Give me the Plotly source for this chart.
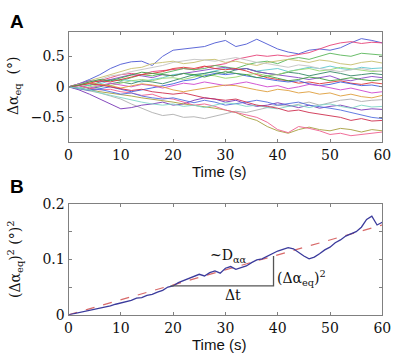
import plotly.graph_objects as go

W, H = 400, 361

# ---------------- Panel A data (values every 2 s) ----------------
tA = list(range(0, 61, 2))
traces_A = {
    "#4f5bd5": [0, 0.05, 0.12, 0.2, 0.3, 0.37, 0.41, 0.42, 0.35, 0.5, 0.6, 0.62, 0.64, 0.66, 0.72, 0.76, 0.66, 0.7, 0.78, 0.7, 0.62, 0.57, 0.54, 0.6, 0.62, 0.6, 0.64, 0.72, 0.79, 0.76, 0.72],
    "#e8457a": [0, 0.03, 0.08, 0.1, 0.15, 0.2, 0.22, 0.2, 0.25, 0.27, 0.28, 0.3, 0.28, 0.33, 0.35, 0.38, 0.45, 0.48, 0.52, 0.5, 0.52, 0.5, 0.53, 0.56, 0.62, 0.68, 0.72, 0.74, 0.71, 0.73, 0.72],
    "#5cb85c": [0, 0.04, 0.02, 0.08, 0.12, 0.1, 0.15, 0.2, 0.18, 0.22, 0.25, 0.3, 0.28, 0.3, 0.35, 0.33, 0.3, 0.36, 0.4, 0.42, 0.38, 0.45, 0.48, 0.45, 0.5, 0.55, 0.52, 0.5, 0.55, 0.53, 0.52],
    "#c8c070": [0, 0.05, 0.1, 0.15, 0.2, 0.25, 0.3, 0.32, 0.38, 0.4, 0.42, 0.38, 0.4, 0.44, 0.45, 0.4, 0.42, 0.38, 0.35, 0.4, 0.42, 0.45, 0.43, 0.4, 0.44, 0.42, 0.38, 0.36, 0.4, 0.42, 0.39],
    "#60c8d0": [0, -0.02, 0.03, 0.05, 0.1, 0.12, 0.1, 0.08, 0.12, 0.15, 0.2, 0.22, 0.18, 0.22, 0.26, 0.3, 0.28, 0.3, 0.26, 0.28, 0.3, 0.25, 0.28, 0.32, 0.3, 0.34, 0.3, 0.28, 0.32, 0.3, 0.31],
    "#3a8a6a": [0, 0.02, -0.03, 0, 0.05, 0.08, 0.05, 0.1, 0.08, 0.05, 0.1, 0.15, 0.2, 0.22, 0.25, 0.22, 0.28, 0.3, 0.25, 0.22, 0.2, 0.24, 0.22, 0.18, 0.22, 0.25, 0.22, 0.18, 0.2, 0.22, 0.2],
    "#8a4ac8": [0, 0.05, 0.1, 0.08, 0.12, 0.15, 0.2, 0.18, 0.15, 0.2, 0.18, 0.22, 0.25, 0.28, 0.3, 0.32, 0.28, 0.3, 0.25, 0.22, 0.2, 0.18, 0.15, 0.12, 0.15, 0.18, 0.12, 0.1, 0.14, 0.17, 0.15],
    "#e03a3a": [0, 0.04, 0.06, 0.1, 0.08, 0.12, 0.16, 0.2, 0.22, 0.25, 0.3, 0.32, 0.3, 0.34, 0.3, 0.28, 0.3, 0.26, 0.2, 0.15, 0.12, 0.1, 0.06, 0.08, 0.05, 0.08, 0.1, 0.06, 0.04, 0.07, 0.05],
    "#98d870": [0, -0.03, 0, 0.04, 0.02, 0.06, 0.1, 0.12, 0.1, 0.14, 0.15, 0.12, 0.16, 0.2, 0.18, 0.14, 0.16, 0.2, 0.22, 0.18, 0.2, 0.25, 0.28, 0.3, 0.26, 0.28, 0.32, 0.3, 0.27, 0.25, 0.26],
    "#4060e0": [0, -0.02, -0.05, -0.03, 0, -0.04, -0.08, -0.05, -0.02, 0.02, 0.05, 0.1, 0.12, 0.18, 0.22, 0.2, 0.22, 0.18, 0.15, 0.12, 0.1, 0.08, 0.1, 0.05, 0.02, 0.04, 0.08, 0.05, 0.02, 0.03, 0.0],
    "#d04ad0": [0, 0.02, -0.02, 0.02, 0.06, 0.03, 0, 0.04, 0.02, -0.02, 0.02, 0.06, 0.04, 0.08, 0.05, 0.02, 0.05, 0.08, 0.04, 0, 0.02, -0.03, 0, 0.04, 0.02, -0.02, -0.05, -0.02, -0.06, -0.1, -0.08],
    "#e0a040": [0, 0.03, 0.06, 0.04, 0.02, -0.02, 0.02, 0.05, 0.03, 0, -0.05, -0.08, -0.05, -0.02, 0, 0.03, 0.02, -0.02, -0.05, -0.08, -0.04, -0.06, -0.1, -0.08, -0.12, -0.1, -0.15, -0.12, -0.16, -0.18, -0.14],
    "#b0b0b0": [0, -0.03, -0.06, -0.1, -0.15, -0.2, -0.28, -0.35, -0.42, -0.47, -0.45, -0.5, -0.49, -0.52, -0.48, -0.44, -0.4, -0.42, -0.38, -0.34, -0.3, -0.32, -0.28, -0.25, -0.3, -0.26, -0.22, -0.2, -0.24, -0.22, -0.21],
    "#c4c4c4": [0, 0.04, 0.08, 0.12, 0.18, 0.2, 0.25, 0.28, 0.32, 0.35, 0.4, 0.42, 0.45, 0.44, 0.42, 0.45, 0.48, 0.44, 0.4, 0.38, 0.35, 0.32, 0.36, 0.34, 0.3, 0.28, 0.25, 0.28, 0.3, 0.27, 0.25],
    "#7a3ab8": [0, -0.05, -0.12, -0.2, -0.28, -0.36, -0.34, -0.3, -0.28, -0.25, -0.3, -0.28, -0.22, -0.18, -0.2, -0.25, -0.22, -0.28, -0.32, -0.3, -0.26, -0.3, -0.34, -0.3, -0.35, -0.32, -0.3, -0.34, -0.38, -0.36, -0.37],
    "#a8a040": [0, -0.02, -0.05, -0.08, -0.1, -0.12, -0.15, -0.18, -0.2, -0.22, -0.25, -0.28, -0.3, -0.32, -0.35, -0.38, -0.42, -0.5, -0.55, -0.65, -0.72, -0.76, -0.7, -0.66, -0.7, -0.72, -0.68, -0.7, -0.74, -0.7, -0.72],
    "#f06090": [0, 0.02, -0.02, -0.05, -0.04, -0.08, -0.1, -0.14, -0.12, -0.18, -0.2, -0.25, -0.3, -0.28, -0.32, -0.38, -0.42, -0.45, -0.5, -0.58, -0.7, -0.75, -0.65, -0.68, -0.72, -0.78, -0.76, -0.8, -0.78, -0.76, -0.74],
    "#5570e0": [0, -0.03, -0.06, -0.04, -0.08, -0.12, -0.1, -0.15, -0.18, -0.2, -0.18, -0.22, -0.26, -0.22, -0.25, -0.3, -0.28, -0.25, -0.22, -0.25, -0.3, -0.28, -0.25, -0.3, -0.32, -0.35, -0.38, -0.42, -0.45, -0.5, -0.52],
    "#80d8c8": [0, -0.02, -0.05, -0.1, -0.14, -0.18, -0.22, -0.25, -0.28, -0.3, -0.28, -0.32, -0.3, -0.34, -0.3, -0.26, -0.28, -0.32, -0.3, -0.34, -0.36, -0.32, -0.3, -0.34, -0.3, -0.28, -0.32, -0.35, -0.3, -0.33, -0.32],
    "#d03050": [0, 0.02, 0.05, 0.03, 0.0, -0.03, -0.06, -0.04, -0.08, -0.1, -0.12, -0.1, -0.14, -0.18, -0.2, -0.22, -0.2, -0.25, -0.3, -0.32, -0.35, -0.4, -0.38, -0.42, -0.45, -0.48, -0.5, -0.55, -0.52, -0.56, -0.55],
    "#40a040": [0, 0.03, 0.08, 0.12, 0.1, 0.15, 0.2, 0.24, 0.22, 0.2, 0.18, 0.22, 0.2, 0.16, 0.2, 0.25, 0.22, 0.2, 0.15, 0.18, 0.14, 0.1, 0.12, 0.16, 0.14, 0.1, 0.12, 0.15, 0.12, 0.1, 0.12],
}

# ---------------- Panel B data (values every 1 s) ----------------
tB = list(range(0, 61))
msd_B = [0, 0.002, 0.004, 0.005, 0.008, 0.010, 0.011, 0.014, 0.016, 0.019, 0.021, 0.024, 0.026, 0.030, 0.031, 0.035, 0.037, 0.041, 0.044, 0.050,
         0.052, 0.058, 0.062, 0.066, 0.069, 0.073, 0.070, 0.076, 0.079, 0.075, 0.084, 0.087, 0.082, 0.085, 0.088, 0.094, 0.099, 0.101, 0.106, 0.110,
         0.115, 0.118, 0.121, 0.119, 0.112, 0.106, 0.101, 0.104, 0.110, 0.117, 0.122, 0.130, 0.135, 0.142, 0.146, 0.150, 0.158, 0.172, 0.178, 0.162, 0.167]
fit_t = [0, 60]
fit_v = [0, 0.162]
tri_t = [19.5, 39.2, 39.2]
tri_v = [0.052, 0.052, 0.106]

xA_ticks = [0, 10, 20, 30, 40, 50, 60]
yA_ticks = [-0.5, 0, 0.5]
yA_text = ["\u22120.5", "0", "0.5"]
yB_ticks = [0, 0.05, 0.1, 0.15, 0.2]
yB_text = ["0", "", "0.1", "", "0.2"]

fig = go.Figure()
for col, vals in traces_A.items():
    fig.add_trace(go.Scatter(x=tA, y=vals, mode="lines", line=dict(color=col, width=1),
                             opacity=0.9, xaxis="x", yaxis="y", showlegend=False, hoverinfo="skip"))

fig.add_trace(go.Scatter(x=fit_t, y=fit_v, mode="lines", line=dict(color="#d86a6a", width=1.2, dash="dash"),
                         xaxis="x2", yaxis="y2", showlegend=False))
fig.add_trace(go.Scatter(x=tB, y=msd_B, mode="lines", line=dict(color="#3b3b9c", width=1.3),
                         xaxis="x2", yaxis="y2", showlegend=False))
fig.add_trace(go.Scatter(x=tri_t, y=tri_v, mode="lines", line=dict(color="#555555", width=1.3),
                         xaxis="x2", yaxis="y2", showlegend=False))

def px(x):
    return x / W

def py(y):
    return 1 - y / H

serif = "DejaVu Serif, Liberation Serif, serif"
sans = "Liberation Sans, Arial, sans-serif"

axis_common = dict(showline=True, linecolor="#808080", linewidth=1, mirror="ticks", ticks="inside",
                   ticklen=3, tickcolor="#808080", showgrid=False, zeroline=False,
                   tickfont=dict(family=serif, size=14, color="#111"))

xd = [px(66.7), px(391)]
fig.update_layout(
    width=W, height=H, margin=dict(l=0, r=0, t=0, b=0),
    paper_bgcolor="white", plot_bgcolor="white",
    font=dict(family=serif, size=14, color="#111"),
    xaxis=dict(domain=xd, range=[0, 60], tickvals=xA_ticks, anchor="y", **axis_common),
    yaxis=dict(domain=[py(140), py(25)], range=[-0.9, 0.9], tickvals=yA_ticks, ticktext=yA_text, anchor="x", **axis_common),
    xaxis2=dict(domain=xd, range=[0, 60], tickvals=xA_ticks, anchor="y2", **axis_common),
    yaxis2=dict(domain=[py(321), py(205)], range=[0, 0.2], tickvals=yB_ticks, ticktext=yB_text, anchor="x2", **axis_common),
)

ann = []
ann.append(dict(x=px(4), y=py(14), text="<b>A</b>", font=dict(family=sans, size=19, color="black"), xanchor="left", yanchor="middle"))
ann.append(dict(x=px(4), y=py(187), text="<b>B</b>", font=dict(family=sans, size=19, color="black"), xanchor="left", yanchor="middle"))
ann.append(dict(x=px(222), y=py(171), text="Time (s)", font=dict(family=sans, size=15, color="#111"), xanchor="center", yanchor="middle"))
ann.append(dict(x=px(222), y=py(352), text="Time (s)", font=dict(family=sans, size=15, color="#111"), xanchor="center", yanchor="middle"))
ann.append(dict(x=px(11), y=py(82), text="\u0394\u03b1<sub>eq</sub>  (\u00b0)", textangle=-90,
                font=dict(family=serif, size=14, color="#111"), xanchor="center", yanchor="middle"))
ann.append(dict(x=px(12), y=py(263), text="(\u0394\u03b1<sub>eq</sub>)<sup>2</sup> (\u00b0)<sup>2</sup>", textangle=-90,
                font=dict(family=serif, size=14, color="#111"), xanchor="center", yanchor="middle"))
for a in ann:
    a.update(xref="paper", yref="paper", showarrow=False)

ann.append(dict(x=30.6, y=0.106, xref="x2", yref="y2", text="~D<sub>\u03b1\u03b1</sub>", showarrow=False,
                font=dict(family=serif, size=14, color="#111"), xanchor="center", yanchor="middle"))
ann.append(dict(x=31.5, y=0.035, xref="x2", yref="y2", text="\u0394t", showarrow=False,
                font=dict(family=serif, size=14, color="#111"), xanchor="center", yanchor="middle"))
ann.append(dict(x=44.6, y=0.066, xref="x2", yref="y2", text="(\u0394\u03b1<sub>eq</sub>)<sup>2</sup>", showarrow=False,
                font=dict(family=serif, size=14, color="#111"), xanchor="center", yanchor="middle"))
fig.update_layout(annotations=ann)

fig.write_html("out.html", config={"displayModeBar": False},
               post_script="document.body.style.margin='0';document.body.style.padding='0';")
